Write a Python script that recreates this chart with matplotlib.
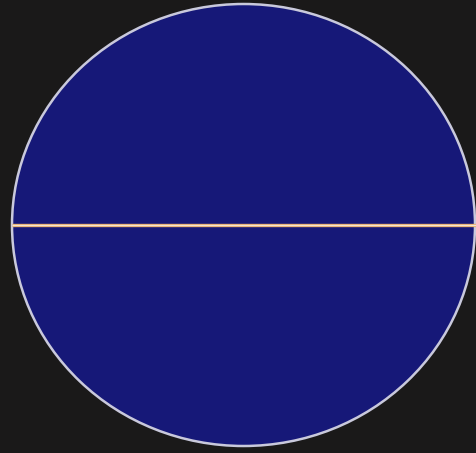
import matplotlib
matplotlib.use("Agg")
import matplotlib.pyplot as plt
from matplotlib.patches import Ellipse

# shape (pixel units)
centre = (243.5, 225)
diam_x = 463
diam_y = 442
line_y = 225

fig = plt.figure(figsize=(4.77, 4.53), dpi=100, facecolor="#1a1919")
ax = fig.add_axes([0, 0, 1, 1])
ax.set_facecolor("#1a1919")
ax.set_xlim(0, 477)
ax.set_ylim(453, 0)
ax.axis("off")

e = Ellipse(centre, diam_x, diam_y, facecolor="#161878",
            edgecolor="#c9c9dc", linewidth=1.8)
ax.add_patch(e)
ax.plot([centre[0] - diam_x / 2, 477], [line_y, line_y],
        color="#e8b070", linewidth=2.4, solid_capstyle="butt")
ax.plot([centre[0] - diam_x / 2, 477], [line_y, line_y],
        color="#f4e4d0", linewidth=0.9, solid_capstyle="butt")

fig.savefig("out.png", dpi=100, facecolor=fig.get_facecolor())
